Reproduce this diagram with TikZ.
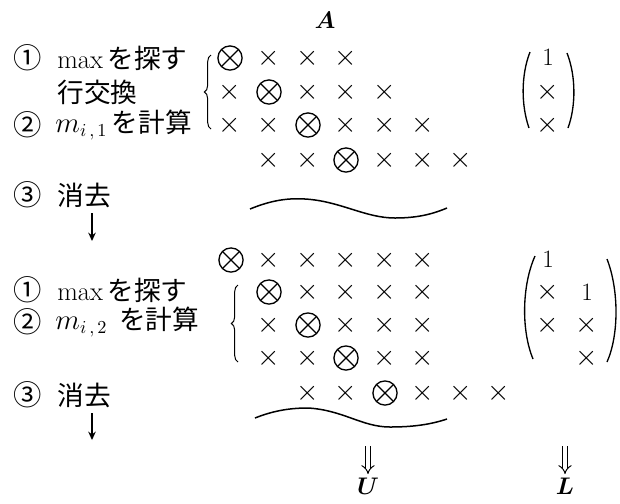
\documentclass[tikz,border=0pt]{standalone}
\usepackage{amsmath}
\usepackage{fontspec}
\newfontfamily\jp{Noto Sans CJK JP}
\usetikzlibrary{decorations.pathreplacing,arrows.meta}
\newcommand{\jt}[1]{{\jp\fontsize{16}{17}\selectfont #1}}
\begin{document}
\begin{tikzpicture}[x=0.6pt,y=-0.6pt,
  cr/.style={inner sep=0pt,text height=9pt,text depth=0pt,font=\fontsize{18}{18}\selectfont},
  ox/.style={circle,draw,line width=0.8pt,minimum size=14.5pt,inner sep=0pt,
    path picture={\draw[line width=0.8pt] (path picture bounding box.north west)--(path picture bounding box.south east)
      (path picture bounding box.north east)--(path picture bounding box.south west);}},
  lab/.style={anchor=west,inner sep=0pt,font=\fontsize{16}{17}\selectfont},
  num/.style={inner sep=0pt,font=\jp\fontsize{17}{18}\selectfont},
  one/.style={inner sep=0pt,font=\fontsize{15}{16}\selectfont},
  paren/.style={line width=0.8pt},
  wave/.style={line width=0.9pt},
  brc/.style={line width=0.6pt,decorate,decoration={brace,amplitude=4pt}},
  dn/.style={line width=0.8pt,-{Stealth[length=5pt,width=4.5pt]}},
  dbl/.style={double,double distance=2.2pt,line width=0.6pt,-{Implies},shorten >=2pt}
]
\useasboundingbox (0,0) rectangle (620,503);
% title
\node[one] (A) at (325,20) {$\boldsymbol{A}$};
% left labels, top
\node[num] (n1a) at (28,58) {①};
\node[lab] (l1a) at (57,58) {max\,\jt{を探す}};
\node[lab] (l1b) at (57,92) {\jt{行交換}};
\node[num] (n2a) at (28,125) {②};
\node[lab] (l2a) at (55,125) {$m_{i\,,\,1}$\,\jt{を計算}};
\node[num] (n3a) at (28,195) {③};
\node[lab] (l3a) at (57,195) {\jt{消去}};
\coordinate (d1s) at (92,213); \coordinate (d1e) at (92,241);
\draw[dn] (d1s) -- (d1e);
% left labels, bottom
\node[num] (n1b) at (28,290) {①};
\node[lab] (l4a) at (57,290) {max\,\jt{を探す}};
\node[num] (n2b) at (28,322) {②};
\node[lab] (l5a) at (55,322) {$m_{i\,,\,2}$\;\,\jt{を計算}};
\node[num] (n3b) at (28,395) {③};
\node[lab] (l6a) at (57,395) {\jt{消去}};
\coordinate (d2s) at (92,413); \coordinate (d2e) at (92,440);
\draw[dn] (d2s) -- (d2e);
% top matrix
\foreach \n/\x/\y in {t12/269/58,t13/308/58,t14/346/58,
  t21/230/92,t23/308/92,t24/346/92,t25/385/92,
  t31/230/125,t32/269/125,t34/346/125,t35/385/125,t36/423/125,
  t42/269/160,t43/308/160,t45/385/160,t46/423/160,t47/461/160}
  \node[cr] (\n) at (\x,\y) {$\times$};
\foreach \n/\x/\y in {t11/230/58,t22/269/92,t33/308/125,t44/346/160}
  \node[ox] (\n) at (\x,\y) {};
\draw[brc] (211,129) -- (211,55);
\draw[wave] (250,209) .. controls (272,200) and (288,198) .. (305,199)
  .. controls (340,201) and (365,218) .. (395,218)
  .. controls (420,218) and (435,213) .. (447,208);
% top vector
\node[one] (v1) at (548,57) {1};
\node[cr] (v2) at (548,92) {$\times$};
\node[cr] (v3) at (548,125) {$\times$};
\draw[paren] (530,52) .. controls (521,75) and (521,105) .. (529,128);
\draw[paren] (567,53) .. controls (576,76) and (576,106) .. (568,128);
% bottom matrix
\foreach \n/\x/\y in {b12/269/260,b13/308/260,b14/346/260,b15/385/260,b16/423/260,
  b23/308/292,b24/346/292,b25/385/292,b26/423/292,
  b32/269/325,b34/346/325,b35/385/325,b36/423/325,
  b42/269/358,b43/308/358,b45/385/358,b46/423/358,
  b53/308/393,b54/346/393,b56/423/393,b57/461/393,b58/499/393}
  \node[cr] (\n) at (\x,\y) {$\times$};
\foreach \n/\x/\y in {b11/231/260,b22/269/292,b33/308/325,b44/346/358,b55/385/393}
  \node[ox] (\n) at (\x,\y) {};
\draw[brc] (238,362) -- (238,285);
\draw[wave] (255,418) .. controls (275,410) and (292,408) .. (308,408)
  .. controls (343,410) and (362,427) .. (390,427)
  .. controls (415,427) and (432,424) .. (447,419);
% bottom L
\node[one] (w11) at (548,259) {1};
\node[cr] (w21) at (548,292) {$\times$};
\node[one] (w22) at (587,292) {1};
\node[cr] (w31) at (548,325) {$\times$};
\node[cr] (w32) at (587,325) {$\times$};
\node[cr] (w42) at (587,358) {$\times$};
\draw[paren] (535,256) .. controls (522,285) and (521,330) .. (533,359);
\draw[paren] (607,259) .. controls (619,290) and (619,335) .. (607,362);
% results
\node[one] (U) at (368,486) {$\boldsymbol{U}$};
\node[one] (L) at (565,486) {$\boldsymbol{L}$};
\coordinate (ua) at (368,446);
\coordinate (la) at (565,446);
\draw[dbl] (ua) -- (U.north);
\draw[dbl] (la) -- (L.north);
\end{tikzpicture}
\end{document}
